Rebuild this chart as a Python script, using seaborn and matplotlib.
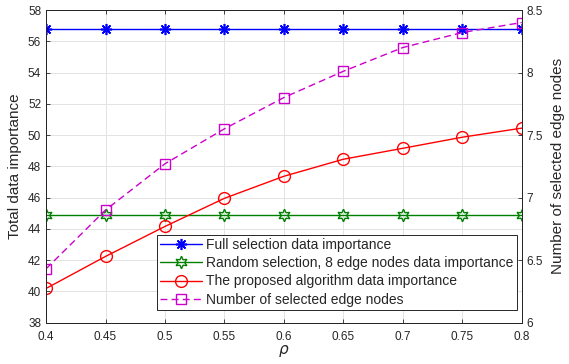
import numpy as np
import pandas as pd
import matplotlib
matplotlib.use("Agg")
import matplotlib.pyplot as plt
import seaborn as sns

rho = [0.4, 0.45, 0.5, 0.55, 0.6, 0.65, 0.7, 0.75, 0.8]
full_sel = [56.8] * 9
random_sel = [44.86] * 9
proposed = [40.18, 42.23, 44.15, 45.95, 47.36, 48.45, 49.15, 49.86, 50.44]
num_nodes = [6.43, 6.90, 7.27, 7.55, 7.80, 8.01, 8.20, 8.32, 8.40]
xticks = [0.4, 0.45, 0.5, 0.55, 0.6, 0.65, 0.7, 0.75, 0.8]
xticklabels = ["0.4", "0.45", "0.5", "0.55", "0.6", "0.65", "0.7", "0.75", "0.8"]

sns.set_theme(style="ticks")
plt.rcParams['font.family'] = ['Liberation Sans', 'DejaVu Sans']
plt.rcParams['mathtext.fontset'] = 'dejavusans'

df = pd.DataFrame({"rho": rho, "full": full_sel, "rand": random_sel,
                   "prop": proposed, "num": num_nodes})

fig = plt.figure(figsize=(5.69, 3.64), dpi=100)
ax = fig.add_axes([0.081, 0.114, 0.836, 0.8585])
ax2 = ax.twinx()

sns.lineplot(data=df, x="rho", y="full", ax=ax, color="#0000ff", marker=(8, 2, 0),
             markersize=8, markeredgecolor="#0000ff", markeredgewidth=1.2, lw=1.0,
             label="Full selection data importance")
sns.lineplot(data=df, x="rho", y="rand", ax=ax, color="#008000", marker=(6, 1, 0),
             markersize=9, markerfacecolor="none", markeredgecolor="#008000",
             markeredgewidth=1.0, lw=1.0,
             label="Random selection, 8 edge nodes data importance")
sns.lineplot(data=df, x="rho", y="prop", ax=ax, color="#ff0000", marker="o",
             markersize=8.5, markerfacecolor="none", markeredgecolor="#ff0000",
             markeredgewidth=1.0, lw=1.0,
             label="The proposed algorithm data importance")
sns.lineplot(data=df, x="rho", y="num", ax=ax2, color="#cc00cc", marker="s",
             markersize=6.5, markerfacecolor="none", markeredgecolor="#cc00cc",
             markeredgewidth=1.0, lw=1.0, dashes=False, linestyle=(0, (5, 3)),
             label="Number of selected edge nodes")

ax.set_xlim(0.4, 0.8)
ax.set_ylim(38, 58)
ax2.set_ylim(6, 8.5)
ax.set_xticks(xticks)
ax.set_xticklabels(xticklabels)
ax.set_yticks(np.arange(38, 59, 2))
ax2.set_yticks([6, 6.5, 7, 7.5, 8, 8.5])
ax2.set_yticklabels(["6", "6.5", "7", "7.5", "8", "8.5"])

ax.grid(True, color="#e3e3e3", lw=0.7)
ax.set_axisbelow(True)
for a in (ax, ax2):
    a.tick_params(direction="in", labelsize=8.5, length=3, width=0.6, colors="#262626")
    for s in a.spines.values():
        s.set_linewidth(0.7)
        s.set_color("#262626")
ax.tick_params(top=True)
ax.tick_params(axis="x", pad=6)

ax.set_xlabel(r"$\rho$", fontsize=11, labelpad=0)
ax.set_ylabel("Total data importance", fontsize=11, labelpad=4)
ax2.set_ylabel("Number of selected edge nodes", fontsize=11, labelpad=6)

h1, l1 = ax.get_legend_handles_labels()
h2, l2 = ax2.get_legend_handles_labels()
if ax2.get_legend():
    ax2.get_legend().remove()
leg = ax.legend(h1 + h2, l1 + l2, loc="lower right", bbox_to_anchor=(0.99, 0.04),
                fontsize=10, frameon=True, fancybox=False, edgecolor="#262626",
                framealpha=1, borderpad=0.25, labelspacing=0.3, handlelength=3.0,
                handletextpad=0.3, borderaxespad=0.0)
leg.get_frame().set_linewidth(0.7)

fig.savefig("out.png", dpi=100)
